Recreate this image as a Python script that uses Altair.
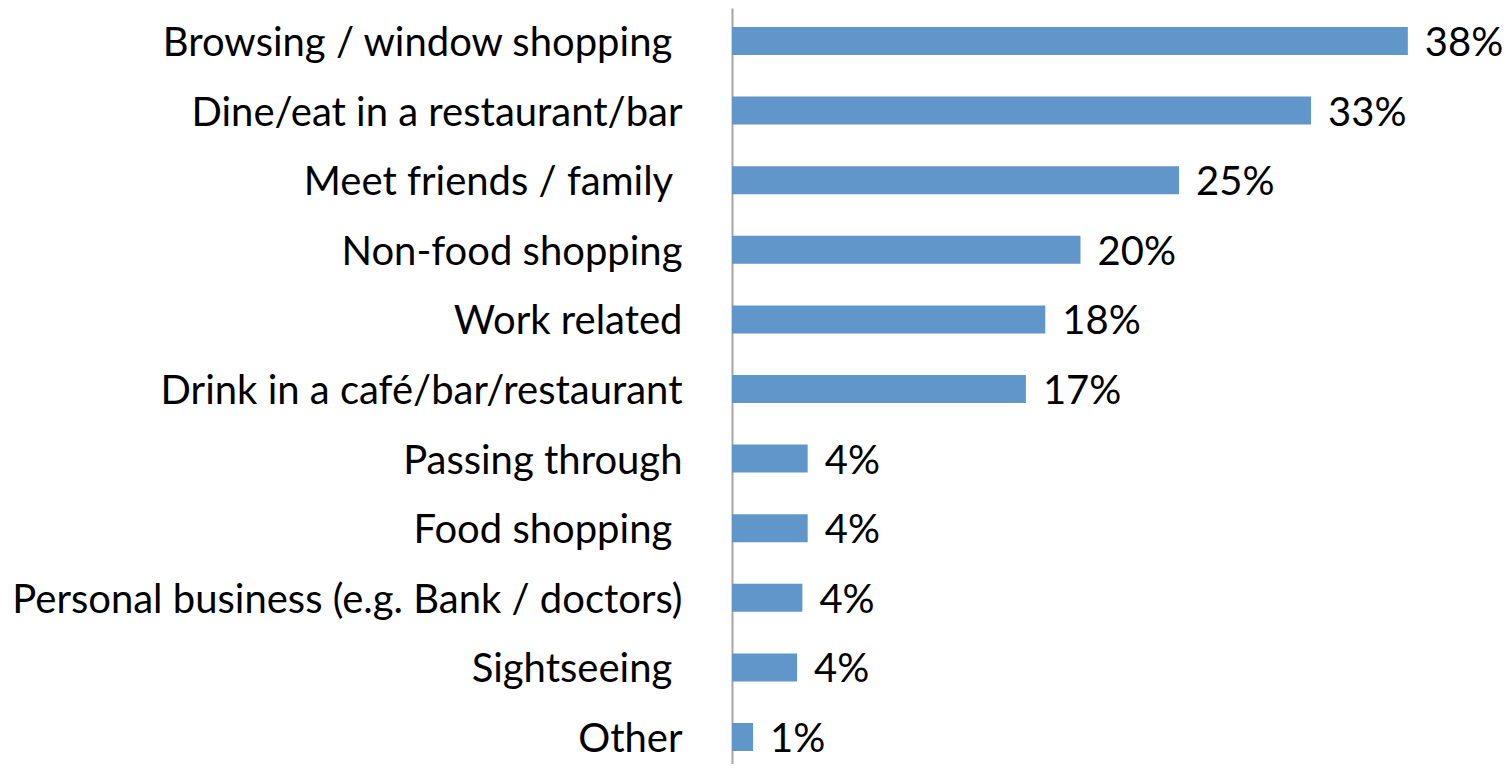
import altair as alt
import pandas as pd

categories = [
    "Browsing / window shopping\u00a0\u200b",
    "Dine/eat in a restaurant/bar",
    "Meet friends / family\u00a0\u200b",
    "Non-food shopping",
    "Work related",
    "Drink in a café/bar/restaurant",
    "Passing through",
    "Food shopping\u00a0\u200b",
    "Personal business (e.g. Bank / doctors)",
    "Sightseeing\u00a0\u200b",
    "Other",
]
values = [38.4, 32.9, 25.4, 19.8, 17.8, 16.7, 4.3, 4.3, 4.0, 3.7, 1.2]
labels = ["38%", "33%", "25%", "20%", "18%", "17%", "4%", "4%", "4%", "4%", "1%"]

df = pd.DataFrame({"cat": categories, "value": values, "label": labels})

FONT = "Lato"
FS = 40

y_enc = alt.Y(
    "cat:N",
    sort=categories,
    scale=alt.Scale(paddingInner=0.598, paddingOuter=0.23, align=0.594),
    axis=alt.Axis(
        title=None,
        ticks=False,
        tickSize=0,
        grid=False,
        labelFont=FONT,
        labelFontSize=FS,
        labelColor="black",
        labelLimit=1000,
        labelPadding=50,
        labelOffset=3,
        domainColor="#A6A6A6",
        domainWidth=2,
    ),
)
x_enc = alt.X("value:Q", scale=alt.Scale(domain=[0, 40]), axis=None)

bars = alt.Chart(df).mark_bar(color="#6096CA").encode(y=y_enc, x=x_enc)
text = alt.Chart(df).mark_text(
    align="left", baseline="middle", dx=17, dy=3, font=FONT, fontSize=FS, color="black"
).encode(y=alt.Y("cat:N", sort=categories), x="value:Q", text="label:N")

chart = (
    alt.layer(bars, text)
    .properties(
        width=704,
        height=756,
        autosize=alt.AutoSizeParams(type="none"),
        padding={"left": 724, "top": 0, "right": 67, "bottom": 0},
    )
    .configure_view(stroke=None)
)

chart.save("out.html", embed_options={"renderer": "svg", "actions": False})
